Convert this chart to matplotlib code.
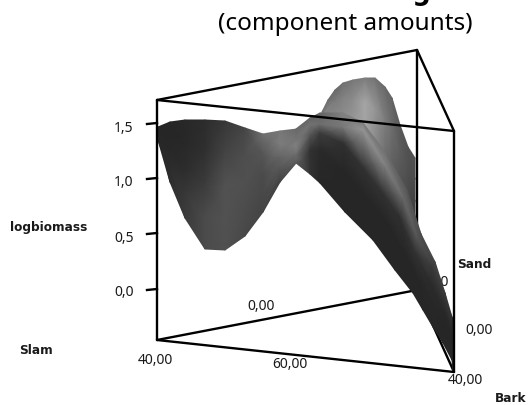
# -*- coding: utf-8 -*-
"""Mixture surface of logbiomass, read off the picture in pixel positions."""

import numpy as np
import matplotlib
matplotlib.use("Agg")
import matplotlib.pyplot as plt

plt.rcParams["font.family"] = ["Noto Sans", "DejaVu Sans"]

TITLE = "Mixture Surface: logbiomass"
SUBTITLE = "(component amounts)"
Z_TICKS = ["1,5", "1,0", "0,5", "0,0"]

# box corners as seen on screen
TOP_SLAM, BOT_SLAM = (157, 100), (157, 340)
TOP_SAND, BOT_SAND = (417, 50), (417, 290)
TOP_BARK, BOT_BARK = (454, 131), (454, 372)

# left bowl: one column per x, rows run top to bottom
BOWL_X = [
    [158] * 5, [170] * 5, [185] * 5, [205] * 5, [225] * 5,
    [245] * 5, [263] * 5, [280] * 5, [297] * 5,
]
BOWL_Y = [
    [127, 130, 133, 137, 140],
    [122, 137, 152, 167, 182],
    [120, 144, 169, 193, 218],
    [120, 152, 185, 217, 249],
    [121, 153, 186, 218, 250],
    [128, 155, 182, 209, 236],
    [134, 154, 173, 193, 212],
    [131, 144, 157, 169, 182],
    [129, 137, 145, 153, 162],
]
BOWL_GRAY = [
    [38, 38, 38, 38, 38],
    [38, 38, 40, 44, 45],
    [40, 40, 44, 55, 60],
    [44, 48, 60, 75, 75],
    [55, 68, 82, 82, 80],
    [70, 78, 80, 76, 72],
    [112, 85, 75, 72, 68],
    [120, 125, 100, 85, 65],
    [105, 115, 130, 110, 90],
]

# long front ridge: one cross section per station, bottom edge to top edge
RIDGE_X = [
    [296, 296, 296, 296, 296],
    [310, 310, 310, 310, 310],
    [320, 320, 320, 320, 320],
    [345, 343, 343, 343, 343],
    [373, 368, 363, 363, 363],
    [395, 388, 383, 385, 387],
    [413, 405, 400, 403, 407],
    [423, 418, 415, 417, 421],
    [433, 431, 430, 432, 435],
    [443, 443, 443, 443, 445],
    [452, 452, 452, 452, 452],
    [453, 453, 453, 453, 453],
]
RIDGE_Y = [
    [163, 155, 147, 138, 129],
    [174, 150, 135, 125, 118],
    [183, 150, 133, 124, 113],
    [212, 170, 143, 127, 113],
    [240, 200, 167, 130, 123],
    [270, 225, 193, 165, 155],
    [293, 255, 217, 198, 190],
    [310, 280, 252, 238, 234],
    [327, 300, 280, 265, 262],
    [343, 325, 310, 298, 293],
    [360, 345, 335, 325, 317],
    [372, 360, 345, 330, 320],
]
RIDGE_GRAY = [
    [90, 110, 130, 115, 105],
    [50, 50, 85, 115, 100],
    [38, 42, 60, 110, 100],
    [38, 38, 48, 120, 130],
    [38, 38, 50, 150, 125],
    [38, 38, 50, 130, 110],
    [38, 38, 48, 105, 85],
    [38, 38, 50, 85, 75],
    [38, 40, 44, 60, 70],
    [38, 38, 40, 50, 60],
    [38, 38, 38, 45, 50],
    [38, 38, 38, 38, 38],
]

# hump behind the ridge, columns again
HUMP_X = [
    [322] * 4, [328] * 4, [335] * 4, [343] * 4, [353] * 4, [365] * 4,
    [375] * 4, [385] * 4, [392] * 4, [400] * 4, [408] * 4, [415] * 4,
]
HUMP_Y = [
    [112, 116, 120, 125],
    [100, 108, 116, 125],
    [90, 102, 114, 125],
    [83, 98, 114, 130],
    [80, 100, 120, 140],
    [78, 102, 126, 150],
    [78, 109, 139, 170],
    [87, 121, 156, 190],
    [98, 135, 170, 205],
    [125, 155, 185, 220],
    [147, 170, 200, 230],
    [158, 179, 201, 222],
]
HUMP_GRAY = [
    [110, 130, 130, 130],
    [108, 128, 132, 132],
    [105, 125, 135, 135],
    [112, 130, 140, 140],
    [120, 140, 150, 150],
    [125, 165, 165, 150],
    [115, 150, 140, 120],
    [105, 125, 110, 100],
    [100, 108, 95, 90],
    [90, 92, 82, 78],
    [82, 80, 72, 68],
    [80, 75, 65, 60],
]

LINE_W = 1.7
TXT = "#1a1a1a"
TICK_SIZE = 10
BOLD = {"family": "DejaVu Sans", "fontweight": "bold", "fontsize": 8.7}


def box_line(ax, p, q, z):
    ax.plot([p[0], q[0]], [p[1], q[1]], color="black", lw=LINE_W, zorder=z,
            solid_capstyle="round")


def patch(ax, xs, ys, grays, z):
    ax.pcolormesh(np.array(xs, float), np.array(ys, float), np.array(grays, float),
                  cmap="gray", vmin=0, vmax=255, shading="gouraud", zorder=z)


fig = plt.figure(figsize=(5.28, 4.05), dpi=100)
ax = fig.add_axes([0, 0, 1, 1])
ax.set_xlim(0, 528)
ax.set_ylim(405, 0)
ax.axis("off")

# --- back of the box and the hump ---
patch(ax, HUMP_X, HUMP_Y, HUMP_GRAY, 1)
box_line(ax, BOT_SLAM, BOT_SAND, 2)
box_line(ax, BOT_SAND, BOT_BARK, 2)
box_line(ax, TOP_SAND, BOT_SAND, 2)
ax.text(435, 283, "0,00", color=TXT, fontsize=TICK_SIZE, ha="center", va="center", zorder=2)

# --- surface ---
patch(ax, BOWL_X, BOWL_Y, BOWL_GRAY, 3)
patch(ax, RIDGE_X, RIDGE_Y, RIDGE_GRAY, 3)

# --- front of the box ---
box_line(ax, TOP_SLAM, TOP_SAND, 4)
box_line(ax, TOP_SAND, TOP_BARK, 4)
box_line(ax, TOP_SLAM, TOP_BARK, 4)
box_line(ax, TOP_SLAM, BOT_SLAM, 4)
box_line(ax, TOP_BARK, BOT_BARK, 4)
box_line(ax, BOT_SLAM, BOT_BARK, 4)

# --- z ticks ---
for label, tick_y, label_y in zip(Z_TICKS, [124, 179, 234, 290], [128, 183, 238, 293]):
    ax.plot([147, 157], [tick_y, tick_y - 1], color="black", lw=LINE_W, zorder=4)
    ax.text(124, label_y, label, color=TXT, fontsize=TICK_SIZE, ha="center", va="center")

# --- texts ---
ax.text(135, 0, TITLE, color="black", family="DejaVu Sans", fontsize=18.5, fontweight="bold",
        ha="left", va="baseline", clip_on=False)
ax.text(345, 24, SUBTITLE, color="black", fontsize=17.5, ha="center", va="center")
ax.text(155, 361, "40,00", color=TXT, fontsize=TICK_SIZE, ha="center", va="center")
ax.text(289.5, 365, "60,00", color=TXT, fontsize=TICK_SIZE, ha="center", va="center")
ax.text(261.5, 307, "0,00", color=TXT, fontsize=TICK_SIZE, ha="center", va="center")
ax.text(465, 381, "40,00", color=TXT, fontsize=TICK_SIZE, ha="center", va="center")
ax.text(479.5, 331, "0,00", color=TXT, fontsize=TICK_SIZE, ha="center", va="center")
ax.text(48.5, 227, "logbiomass", color=TXT, ha="center", va="center", **BOLD)
ax.text(36, 351, "Slam", color=TXT, ha="center", va="center", **BOLD)
ax.text(474, 265, "Sand", color=TXT, ha="center", va="center", **BOLD)
ax.text(510.5, 398, "Bark", color=TXT, ha="center", va="center", **BOLD)

fig.savefig("out.png", dpi=100)
plt.close(fig)
